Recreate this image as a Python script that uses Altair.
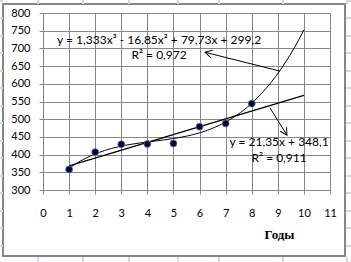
import altair as alt
import pandas as pd

# ---- data ----
years = [1, 2, 3, 4, 5, 6, 7, 8]
values = [358, 407, 429, 430, 431.5, 479, 488, 544]

x_ticks = list(range(0, 12))
y_ticks = list(range(300, 801, 50))

eq_labels = ["y = 1,333x³ - 16,85x² + 79,73x + 299,2", "R² = 0,972",
             "y = 21,35x + 348,1", "R² = 0,911"]
eq_x = [4.45, 4.45, 9.05, 9.05]
eq_y = [712, 670, 424, 378]

arrow_x_from = [9.08, 8.70]
arrow_y_from = [636, 532]
arrow_x_to = [6.21, 9.35]
arrow_y_to = [689, 455]
arrow_angle = [194, 58]

df = pd.DataFrame({"x": years, "y": values})
df_eq = pd.DataFrame({"label": eq_labels, "x": eq_x, "y": eq_y})
df_arrow = pd.DataFrame({"x": arrow_x_from, "y": arrow_y_from,
                         "x2": arrow_x_to, "y2": arrow_y_to, "angle": arrow_angle})

GRID = "#868686"
xscale = alt.Scale(domain=[0, 11], nice=False, zero=False)
yscale = alt.Scale(domain=[300, 800], nice=False, zero=False)

x_axis = alt.Axis(values=x_ticks, grid=True, gridColor=GRID, gridWidth=1,
                  domainColor=GRID, tickColor=GRID, tickSize=4,
                  labelFont="Lato", labelFontSize=11, labelColor="black",
                  labelPadding=13, labelFlush=False, labelOverlap=False,
                  title="Годы", titleFont="Liberation Serif", titleFontSize=13,
                  titleFontWeight="bold", titleColor="black",
                  titleX=236, titleY=48, titleAlign="center",
                  titleBaseline="alphabetic")
y_axis = alt.Axis(values=y_ticks, grid=True, gridColor=GRID, gridWidth=1,
                  domainColor=GRID, tickColor=GRID, tickSize=4,
                  labelFont="Lato", labelFontSize=11, labelColor="black",
                  labelPadding=9, labelOverlap=False, title=None)

X = alt.X("x:Q", scale=xscale, axis=x_axis)
Y = alt.Y("y:Q", scale=yscale, axis=y_axis)
X2 = alt.X2("x2:Q")
Y2 = alt.Y2("y2:Q")

base = alt.Chart(df)

cubic = base.transform_regression(
    "x", "y", method="poly", order=3, extent=[1, 10]
).mark_line(color="black", strokeWidth=1).encode(x=X, y=Y)

linear = base.transform_regression(
    "x", "y", method="linear", extent=[1, 10]
).mark_line(color="black", strokeWidth=1.3).encode(x=X, y=Y)

points = base.mark_circle(size=48, color="#06062a", opacity=1,
                          stroke="#4a7ebb", strokeWidth=0.8).encode(x=X, y=Y)

texts = alt.Chart(df_eq).mark_text(
    align="center", baseline="alphabetic", font="Lato", fontSize=12, color="black"
).encode(x=X, y=Y, text="label:N")

shafts = alt.Chart(df_arrow).mark_rule(color="black", strokeWidth=1).encode(
    x=X, y=Y, x2=X2, y2=Y2)

heads = alt.Chart(df_arrow).mark_point(
    shape="M-1,-0.55L0,0L-1,0.55", size=190, filled=False, color="black",
    strokeWidth=1, opacity=1
).encode(x=alt.X("x2:Q", scale=xscale, axis=x_axis),
         y=alt.Y("y2:Q", scale=yscale, axis=y_axis),
         angle=alt.Angle("angle:Q", scale=None))

# spreadsheet cell lines visible in the margins and chart-area border
sheet_cols = [-5, 40, 86, 135, 176, 240, 304]
sheet_rows = [-12, 5, 23, 40, 58, 75, 93, 110, 128, 145, 163, 180, 198, 215, 233]
deco = []
for c in sheet_cols:
    deco.append(alt.Chart(df).mark_rule(color="#d0d7e5", strokeWidth=1).encode(
        x=alt.value(c), y=alt.value(-13), y2=alt.value(-9)))
    deco.append(alt.Chart(df).mark_rule(color="#d0d7e5", strokeWidth=1).encode(
        x=alt.value(c), y=alt.value(244), y2=alt.value(249)))
for r in sheet_rows:
    deco.append(alt.Chart(df).mark_rule(color="#d0d7e5", strokeWidth=1).encode(
        x=alt.value(303), x2=alt.value(308), y=alt.value(r)))
    deco.append(alt.Chart(df).mark_rule(color="#d0d7e5", strokeWidth=1).encode(
        x=alt.value(-43), x2=alt.value(-40), y=alt.value(r)))
border = alt.Chart(df).mark_rect(fill=None, fillOpacity=0, stroke="#868686",
                                 strokeWidth=1.2).encode(
    x=alt.value(-40), x2=alt.value(302), y=alt.value(-9), y2=alt.value(243))

chart = alt.layer(
    cubic, linear, points, texts, shafts, heads, border, *deco
).properties(
    width=287, height=177,
    autosize=alt.AutoSizeParams(type="none"),
    padding={"left": 43, "top": 13, "right": 21, "bottom": 72},
    background="white",
).configure_view(stroke=None)

chart.save("out.html", embed_options={"renderer": "svg", "actions": False})
